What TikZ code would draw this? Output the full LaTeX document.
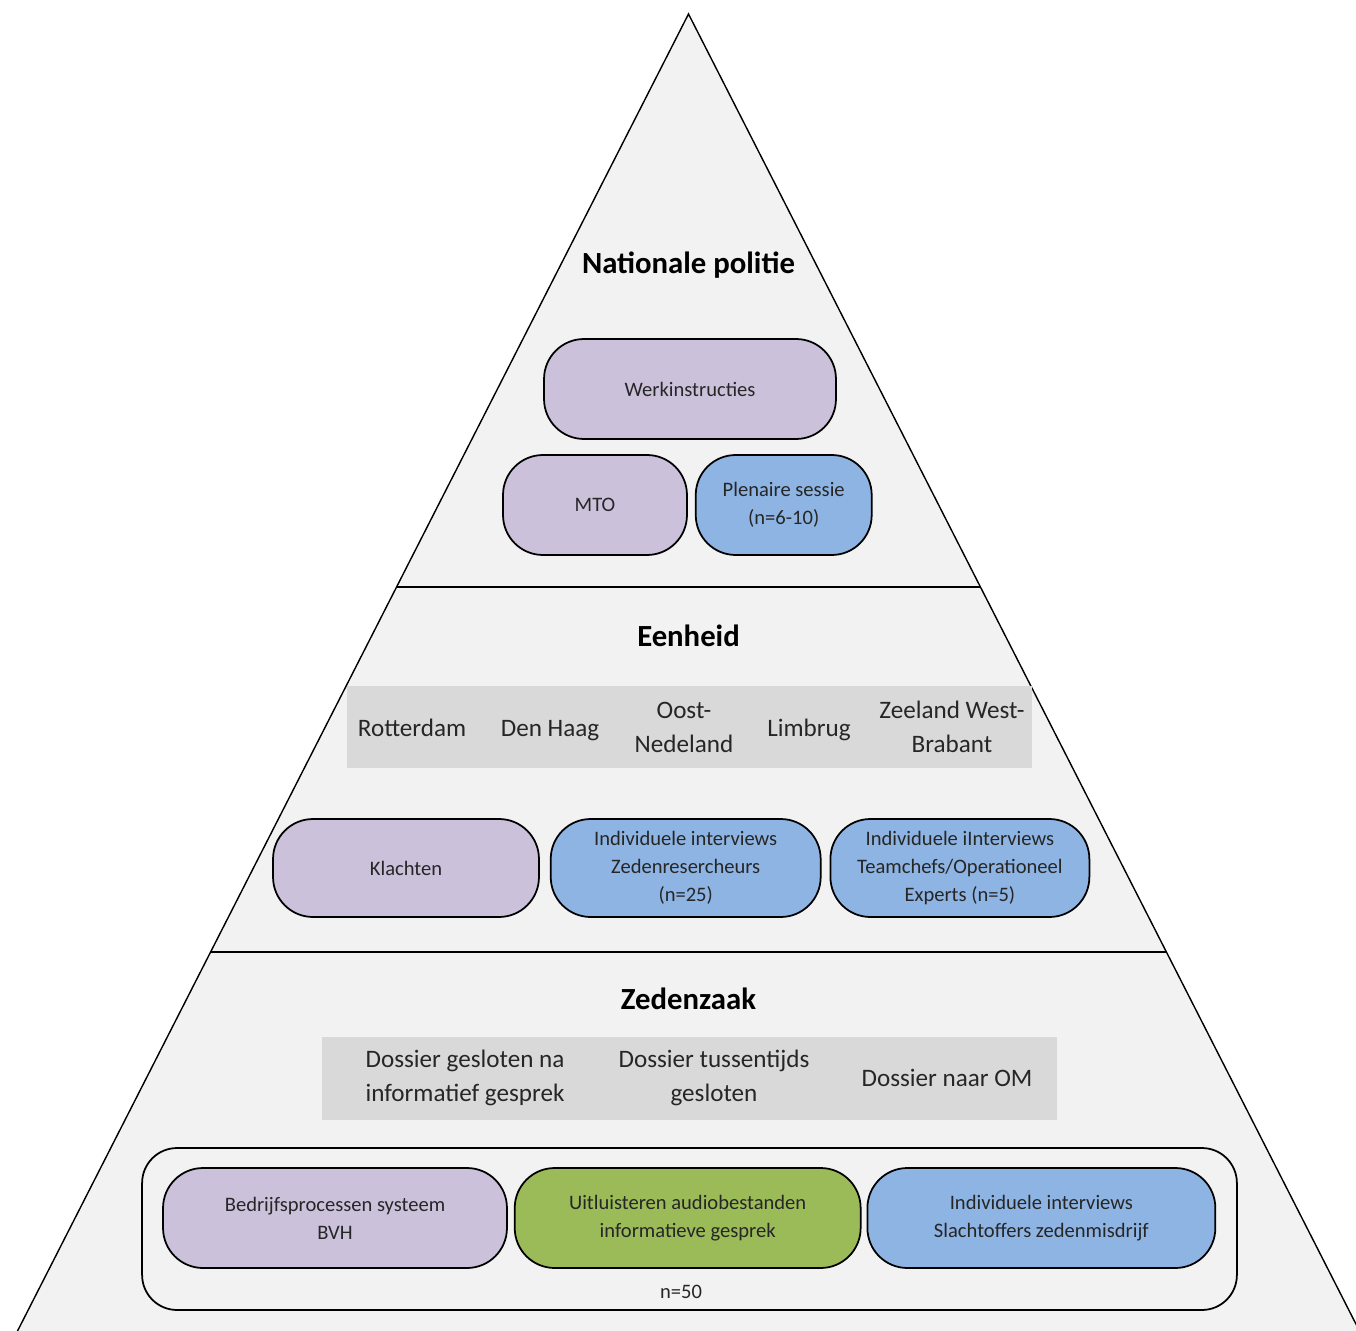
\documentclass[tikz,border=0pt]{standalone}
\usepackage{fontspec}
\setmainfont{Carlito}
\usetikzlibrary{positioning,calc}

\definecolor{paars}{HTML}{CCC1DA}
\definecolor{blauw}{HTML}{8EB4E3}
\definecolor{groen}{HTML}{9BBB59}
\definecolor{vlak}{HTML}{F2F2F2}
\definecolor{balk}{HTML}{D9D9D9}
\definecolor{tekst}{HTML}{262626}

\tikzset{
  blok/.style={draw=black, line width=1pt, rounded corners=0.8cm, align=center,
    text=tekst, font=\fontsize{11.7}{15.9}\selectfont, minimum height=2cm, inner sep=0pt},
  laag/.style={font=\fontsize{17.5}{20}\selectfont\bfseries},
  balktekst/.style={align=center, text=tekst, font=\fontsize{14.3}{19.3}\selectfont},
  balkvlak/.style={fill=balk, inner sep=0pt},
}

\begin{document}
\begin{tikzpicture}[x=0.02cm, y=-0.02cm]

  \useasboundingbox (0,0) rectangle (1356,1331);
  \clip (0,0) rectangle (1356,1331);

  % Define pyramid
  \coordinate (top) at (688.5,14);
  \coordinate (lo) at (17.5,1331);
  \coordinate (ro) at (1359.5,1331);
  \fill[vlak] (top) -- (lo) -- (ro) -- cycle;
  \draw[line width=0.8pt] (lo) -- (top) -- (ro);
  \draw[line width=0.8pt] ($(top)!0.4351!(lo)$) -- ($(top)!0.4351!(ro)$);
  \draw[line width=0.8pt] ($(top)!0.7122!(lo)$) -- ($(top)!0.7122!(ro)$);

  % Nationale politie
  \node[laag] (np) at (688.5,265) {Nationale politie};
  \node[blok, fill=paars, minimum width=5.84cm] (werk) at (690,389) {Werkinstructies};
  \node[blok, fill=paars, minimum width=3.68cm] (mto) at (595,505) {MTO};
  \node[blok, fill=blauw, minimum width=3.52cm, right=0.14cm of mto] (plen) {Plenaire sessie\\(n=6-10)};

  % Eenheid
  \node[laag] (eh) at (688.5,636) {Eenheid};
  \node[balkvlak, minimum width=13.7cm, minimum height=1.64cm] (regio) at (689.5,727) {};
  \node[balktekst, anchor=base] (rdam) at (412,736) {Rotterdam};
  \node[balktekst, anchor=base] (dhaag) at (550,736) {Den Haag};
  \node[balktekst] (oost) at (684,727) {Oost-\\Nedeland};
  \node[balktekst, anchor=base] (limb) at (809,736) {Limbrug};
  \node[balktekst] (zwb) at (952,727) {Zeeland West-\\Brabant};
  \node[blok, fill=paars, minimum width=5.32cm, minimum height=1.96cm] (klacht) at (406,868) {Klachten};
  \node[blok, fill=blauw, minimum width=5.4cm, minimum height=1.96cm, right=0.2cm of klacht] (zeden)
    {Individuele interviews\\Zedenresercheurs\\(n=25)};
  \node[blok, fill=blauw, minimum width=5.18cm, minimum height=1.96cm, right=0.16cm of zeden] (team)
    {Individuele iInterviews\\Teamchefs/Operationeel\\Experts (n=5)};

  % Zedenzaak
  \node[laag] (zz) at (688.5,999) {Zedenzaak};
  \node[balkvlak, minimum width=14.7cm, minimum height=1.66cm] (dossier) at (689.5,1078.5) {};
  \node[balktekst] (dgesl) at (465,1078) {Dossier gesloten na\\informatief gesprek};
  \node[balktekst] (dtus) at (714,1078) {Dossier tussentijds\\gesloten};
  \node[balktekst] (dom) at (947,1078) {Dossier naar OM};
  \node[draw=black, line width=1pt, rounded corners=0.7cm, fill=vlak,
    minimum width=21.9cm, minimum height=3.24cm, inner sep=0pt] (zaken) at (689.5,1229) {};
  \node[blok, fill=paars, minimum width=6.88cm] (bvh) at (335,1218) {Bedrijfsprocessen systeem\\BVH};
  \node[blok, fill=groen, minimum width=6.92cm, right=0.12cm of bvh] (audio)
    {Uitluisteren audiobestanden\\informatieve gesprek};
  \node[blok, fill=blauw, minimum width=6.96cm, right=0.1cm of audio] (slacht)
    {Individuele interviews\\Slachtoffers zedenmisdrijf};
  \node[text=tekst, font=\fontsize{11.7}{14}\selectfont] (n50) at (681,1292) {n=50};

\end{tikzpicture}
\end{document}
